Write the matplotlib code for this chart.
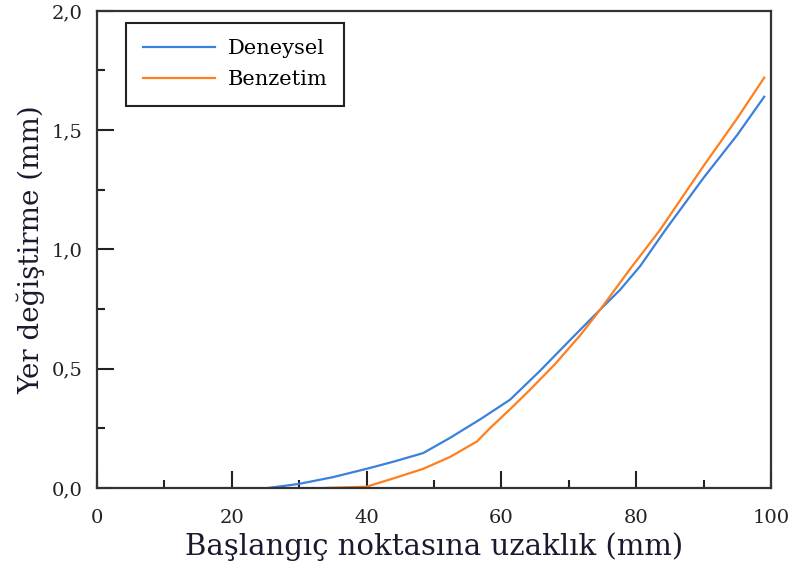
import numpy as np
import matplotlib.pyplot as plt
from matplotlib.ticker import MultipleLocator, FuncFormatter

# uzaklik (mm) / yer degistirme (mm)
x_den = [25.5, 30, 35, 40, 44, 48.4, 52.4, 57, 61.3, 65.7, 70.2, 74.6, 77.6, 80.6, 84.3, 90, 95, 99]
y_den = [0.0, 0.017, 0.045, 0.08, 0.11, 0.146, 0.21, 0.29, 0.37, 0.49, 0.62, 0.746, 0.83, 0.93, 1.08, 1.30, 1.48, 1.64]

x_ben = [34, 40, 44, 48.4, 52.4, 56.4, 58.3, 61.3, 64.2, 68, 71.7, 74.6, 79, 83.5, 90, 95, 99]
y_ben = [0.0, 0.005, 0.04, 0.08, 0.13, 0.195, 0.25, 0.33, 0.41, 0.52, 0.64, 0.745, 0.914, 1.08, 1.35, 1.55, 1.72]

xticks = [0, 20, 40, 60, 80, 100]
yticks = [0.0, 0.5, 1.0, 1.5, 2.0]

plt.rcParams['font.family'] = ['DejaVu Serif']

fig = plt.figure(figsize=(7.94, 5.72), dpi=100)
ax = fig.add_axes([0.122, 0.147, 0.849, 0.834])

ax.plot(x_den, y_den, color='#3a80dc', lw=1.6, label='Deneysel')
ax.plot(x_ben, y_ben, color='#ff7f1e', lw=1.6, label='Benzetim')

ax.set_xlim(0, 100)
ax.set_ylim(0, 2.0)
ax.set_xticks(xticks)
ax.set_yticks(yticks)
ax.xaxis.set_minor_locator(MultipleLocator(10))
ax.yaxis.set_minor_locator(MultipleLocator(0.25))
ax.yaxis.set_major_formatter(FuncFormatter(lambda v, p: f'{v:.1f}'.replace('.', ',')))

ax.tick_params(which='both', direction='in', width=1.5, labelsize=14, colors='#222222')
ax.tick_params(which='major', length=12)
ax.tick_params(which='minor', length=6)
ax.tick_params(axis='x', which='major', pad=15)
ax.tick_params(axis='y', which='major', pad=10)
for s in ax.spines.values():
    s.set_linewidth(1.6)
    s.set_color('#333333')

ax.set_xlabel('Başlangıç noktasına uzaklık (mm)', fontsize=21, labelpad=4, color='#1a1a2e')
ax.set_ylabel('Yer değiştirme (mm)', fontsize=20, labelpad=5, color='#1a1a2e')

leg = ax.legend(loc='upper left', bbox_to_anchor=(0.043, 0.975), borderaxespad=0,
                fontsize=15, fancybox=False, edgecolor='#222222', framealpha=1,
                handlelength=3.5, handletextpad=0.6, borderpad=0.8, labelspacing=0.55)
leg.get_frame().set_linewidth(1.5)

fig.savefig('out.png', dpi=100)
